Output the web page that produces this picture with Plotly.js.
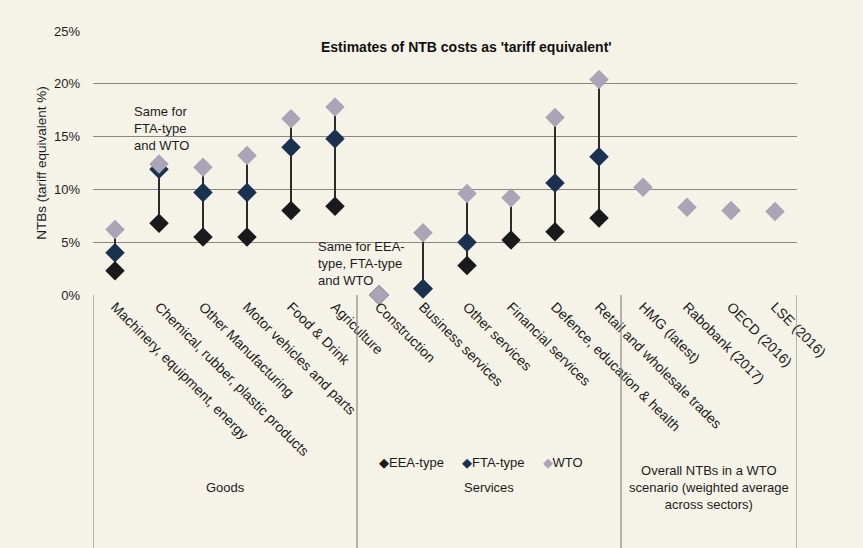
<!DOCTYPE html>
<html>
<head>
<meta charset="utf-8">
<script src="https://cdn.plot.ly/plotly-3.0.1.min.js"></script>
<style>
  body { margin: 0; background: #f5f3e8; }
  #chart { width: 863px; height: 548px; }
</style>
</head>
<body>
<div id="chart"></div>
<script>
//----------------------------------DATA----------------------------------//

const sectors = [
  "Machinery, equipment, energy",
  "Chemical, rubber, plastic products",
  "Other Manufacturing",
  "Motor vehicles and parts",
  "Food & Drink",
  "Agriculture",
  "Construction",
  "Business services",
  "Other services",
  "Financial services",
  "Defence, education & health",
  "Retail and wholesale trades",
  "HMG (latest)",
  "Rabobank (2017)",
  "OECD (2016)",
  "LSE (2016)"
];

// NTB tariff equivalents, %
const eeaType = [2.3, 6.8, 5.5, 5.5, 8.0, 8.4, 0, 0.6, 2.8, 5.2, 6.0, 7.3, null, null, null, null];
const ftaType = [4.0, 11.9, 9.7, 9.7, 14.0, 14.8, 0, 0.6, 5.0, null, 10.6, 13.1, null, null, null, null];
const wto = [6.2, 12.4, 12.1, 13.2, 16.7, 17.8, 0, 5.9, 9.6, 9.2, 16.8, 20.4, 10.2, 8.3, 8.0, 7.9];

const seriesNames = ["EEA-type", "FTA-type", "WTO"];
const seriesColors = ['#1a1a1c', '#1b3150', '#a9a4b6'];

const groups = ["Goods", "Services", "Overall NTBs in a WTO<br>scenario (weighted average<br>across sectors)"];
const groupCenters = [2.5, 8.5, 13.5];
const groupEdges = [-0.5, 5.5, 11.5, 15.5];

const yTicks = [0, 5, 10, 15, 20, 25];

//----------------------------------CHART----------------------------------//

const textColor = '#1c1c1c';
const font = { family: 'Liberation Sans, Arial, sans-serif', size: 13, color: textColor };

// high-low lines from EEA to WTO
let lineX = [];
let lineY = [];
sectors.forEach((s, i) => {
  if (eeaType[i] !== null && wto[i] !== null && eeaType[i] !== wto[i]) {
    lineX.push(s, s, null);
    lineY.push(eeaType[i], wto[i], null);
  }
});

const traces = [
  {
    type: 'scatter', mode: 'lines', x: lineX, y: lineY,
    line: { color: '#2b2b2b', width: 2 },
    showlegend: false, hoverinfo: 'skip', cliponaxis: false
  }
];
[eeaType, ftaType, wto].forEach((vals, k) => {
  traces.push({
    type: 'scatter', mode: 'markers', name: seriesNames[k], x: sectors, y: vals,
    marker: { symbol: 'diamond', size: 15, color: seriesColors[k] },
    cliponaxis: false, showlegend: false
  });
});

let shapes = groupEdges.map(e => ({
  type: 'line', xref: 'x', yref: 'paper', x0: e, x1: e, y0: 0, y1: -1,
  line: { color: '#8a877c', width: 1.2 }
}));

let annotations = [
  {
    text: "<b>Estimates of NTB costs as 'tariff equivalent'</b>",
    xref: 'paper', yref: 'paper', x: 0.53, y: 0.939, yanchor: 'middle', showarrow: false,
    font: { family: font.family, size: 14, color: '#111' }
  },
  {
    text: 'Same for<br>FTA-type<br>and WTO',
    xref: 'x', yref: 'y', x: 0.39, y: 18.3, xanchor: 'left', yanchor: 'top',
    align: 'left', showarrow: false, font: font
  },
  {
    text: 'Same for EEA-<br>type, FTA-type<br>and WTO',
    xref: 'x', yref: 'y', x: 4.57, y: 5.5, xanchor: 'left', yanchor: 'top',
    align: 'left', showarrow: false, font: font
  },
  {
    // compact legend like the original
    text: seriesNames.map((n, k) =>
      '<span style="color:' + seriesColors[k] + '">◆</span>' + n).join('&nbsp;&nbsp;&nbsp;&nbsp;&nbsp;'),
    xref: 'x', yref: 'paper', x: 5.95, y: -0.633, xanchor: 'left', yanchor: 'middle',
    showarrow: false, font: font
  }
];

groups.forEach((g, i) => {
  annotations.push({
    text: g, xref: 'x', yref: 'paper', x: groupCenters[i], y: -0.73,
    yanchor: 'middle', showarrow: false, font: font
  });
});

const layout = {
  width: 863, height: 548,
  margin: { l: 93, r: 66, t: 31, b: 253 },
  paper_bgcolor: '#f5f3e8',
  plot_bgcolor: 'rgba(0,0,0,0)',
  font: font,
  showlegend: false,
  xaxis: {
    type: 'category', categoryorder: 'array', categoryarray: sectors,
    range: [-0.5, 15.5], tickangle: 45,
    showgrid: false, zeroline: false, showline: false, ticks: '',
    tickfont: { family: font.family, size: 14, color: textColor },
    automargin: false
  },
  yaxis: {
    range: [0, 25], tickvals: yTicks, ticktext: yTicks.map(v => v + '%'),
    showgrid: true, gridcolor: '#8a877c', gridwidth: 1.2,
    zeroline: false, showline: false, ticks: '', ticklabelstandoff: 12,
    title: { text: 'NTBs (tariff equivalent %)', standoff: 4, font: { family: font.family, size: 13.5, color: textColor } },
    automargin: false
  },
  shapes: shapes,
  annotations: annotations
};

Plotly.newPlot('chart', traces, layout, { displayModeBar: false, staticPlot: true });
</script>
</body>
</html>
